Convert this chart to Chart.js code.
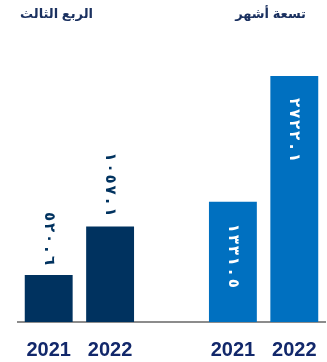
<!DOCTYPE html>
<html>
<head>
<meta charset="utf-8">
<script src="https://cdn.jsdelivr.net/npm/chart.js@4/dist/chart.umd.min.js"></script>
<style>
  html, body { margin: 0; padding: 0; background: #fff; overflow: hidden; }
  #wrap { position: relative; width: 327px; height: 362px; }
  canvas { position: absolute; left: 0; top: 0; }
  .ttl { position: absolute; top: 6px; font: bold 13px Arial, "Liberation Sans", "DejaVu Sans", sans-serif; color: #1b3160; direction: rtl; white-space: nowrap; }
</style>
</head>
<body>
<div id="wrap">
  <canvas id="c" width="327" height="362"></canvas>
  <div class="ttl" id="t1" style="right:234px"></div>
  <div class="ttl" id="t2" style="right:21px"></div>
</div>
<script>
// Data
const categories = ['2021', '2022', '', '2021', '2022'];
const values = [520.6, 1057.1, null, 1331.5, 2722.1];
const valueLabels = ['٥٢٠.٦', '١٠٥٧.١', '', '١٣٣١.٥', '٢٧٢٢.١'];
const groupTitles = ['الربع الثالث', 'تسعة أشهر'];

document.getElementById('t1').textContent = groupTitles[0];
document.getElementById('t2').textContent = groupTitles[1];

const barColors = ['#00325f', '#00325f', '#00325f', '#0070c0', '#0070c0'];
const labelInside = [false, false, false, true, true];

const rotatedLabels = {
  id: 'rotatedLabels',
  afterDatasetsDraw(chart) {
    const ctx = chart.ctx;
    const meta = chart.getDatasetMeta(0);
    const cell = 11;
    meta.data.forEach((bar, i) => {
      const txt = valueLabels[i];
      if (!txt || values[i] == null) return;
      const chars = Array.from(txt);
      ctx.save();
      ctx.font = 'bold 15px "DejaVu Sans", Arial, sans-serif';
      ctx.textBaseline = 'middle';
      ctx.textAlign = 'center';
      let start;
      if (labelInside[i]) {
        start = bar.y + 21;
        ctx.fillStyle = '#ffffff';
      } else {
        start = bar.y - 9 - cell * chars.length;
        ctx.fillStyle = '#00325f';
      }
      ctx.translate(bar.x, start);
      ctx.rotate(Math.PI / 2);
      chars.forEach((ch, k) => ctx.fillText(ch, cell * k + cell / 2, 0));
      ctx.restore();
    });
  }
};

new Chart(document.getElementById('c'), {
  type: 'bar',
  data: {
    labels: categories,
    datasets: [{
      data: values,
      backgroundColor: barColors,
      borderWidth: 0,
      categoryPercentage: 1,
      barPercentage: 0.78
    }]
  },
  options: {
    responsive: false,
    animation: false,
    layout: { padding: { left: 18, right: 2, top: 51, bottom: 0 } },
    plugins: { legend: { display: false }, tooltip: { enabled: false } },
    scales: {
      y: { display: false, min: 0, max: 3000 },
      x: {
        grid: { display: false, drawTicks: false },
        border: { display: true, color: '#8c8c8c', width: 2 },
        afterFit(scale) {
          scale.height = 40;
          scale.paddingLeft = 0;
          scale.paddingRight = 0;
        },
        ticks: {
          color: '#12286b',
          font: { family: 'Arial, "Liberation Sans", sans-serif', size: 20, weight: 'bold' },
          padding: 16,
          maxRotation: 0,
          autoSkip: false
        }
      }
    }
  },
  plugins: [rotatedLabels]
});
</script>
</body>
</html>
